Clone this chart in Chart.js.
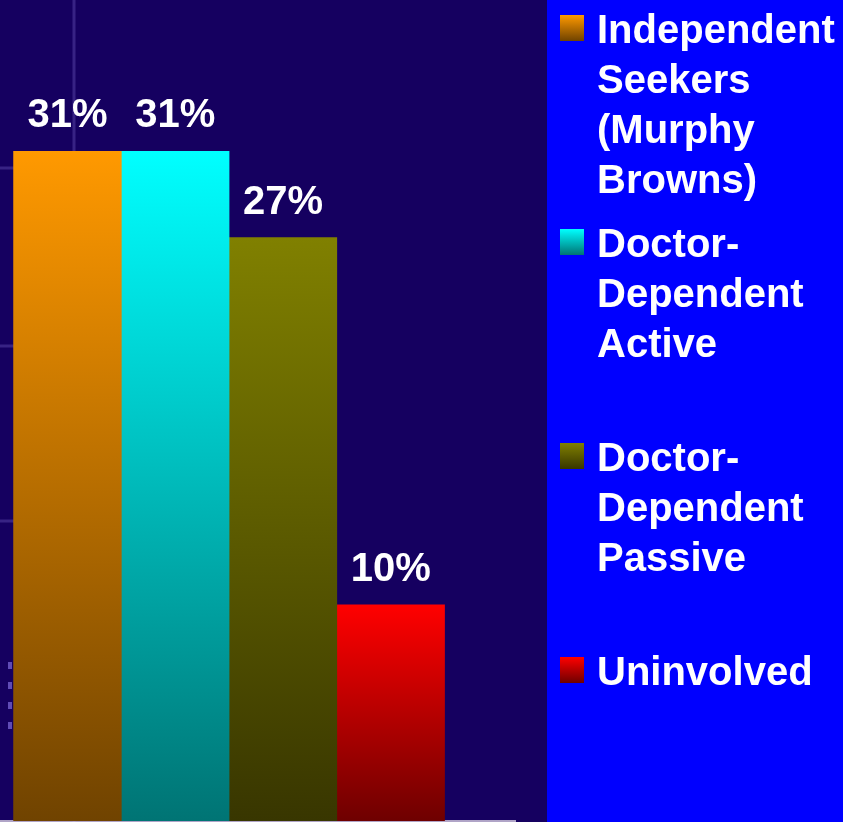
<!DOCTYPE html>
<html>
<head>
<meta charset="utf-8">
<title>Patient segments</title>
<script src="https://cdn.jsdelivr.net/npm/chart.js@4/dist/chart.umd.min.js"></script>
<style>
    html, body { margin: 0; padding: 0; background: #150060; }
    #wrap { position: relative; width: 843px; height: 822px; }
</style>
</head>
<body>
<div id="wrap"><canvas id="segmentChart" width="843" height="822"></canvas></div>
<script>
'use strict';

/* data */
const segmentNames = [
    ['Independent', 'Seekers', '(Murphy', 'Browns)'],
    ['Doctor-', 'Dependent', 'Active'],
    ['Doctor-', 'Dependent', 'Passive'],
    ['Uninvolved']
];
const segmentShares = [31, 31, 27, 10];
const segmentSlots = [1, 2, 3, 4];

/* colours: light at the top of each bar, dark at the base */
const topColors = ['#ff9900', '#00ffff', '#808000', '#ff0000'];
const baseColors = ['#704300', '#007474', '#383600', '#6e0000'];

const fontFamily = '"Liberation Sans", Arial, sans-serif';
const panelLeft = 547;

{
    /* vertical gradient for one bar, from its top down to the zero line */
    const barFill = function(context) {
        const i = context.datasetIndex;
        const chart = context.chart;
        if (context.type !== 'data' || !context.parsed || !chart.chartArea || !chart.scales.y) {
            return topColors[i];
        }
        const yScale = chart.scales.y;
        const top = yScale.getPixelForValue(context.parsed.y);
        const base = yScale.getPixelForValue(0);
        if (!isFinite(top) || !isFinite(base)) {
            return topColors[i];
        }
        const gradient = chart.ctx.createLinearGradient(0, top, 0, base);
        gradient.addColorStop(0, topColors[i]);
        gradient.addColorStop(1, baseColors[i]);
        return gradient;
    };

    /* slide background, faint guide lines and the blue legend panel */
    const backdrop = {
        id: 'backdrop',
        beforeDraw(chart) {
            const ctx = chart.ctx;
            ctx.save();
            ctx.fillStyle = '#150060';
            ctx.fillRect(0, 0, chart.width, chart.height);

            ctx.strokeStyle = 'rgba(120, 100, 200, 0.35)';
            ctx.lineWidth = 3;
            ctx.beginPath();
            ctx.moveTo(74, 0);
            ctx.lineTo(74, chart.height);
            for (const y of [168, 346, 521]) {
                ctx.moveTo(0, y);
                ctx.lineTo(14, y);
            }
            ctx.stroke();

            ctx.fillStyle = 'rgba(120, 100, 210, 0.75)';
            for (const y of [662, 682, 702, 722]) {
                ctx.fillRect(8, y, 4, 7);
            }

            ctx.fillStyle = '#0000ff';
            ctx.fillRect(panelLeft, 0, chart.width - panelLeft, chart.height);
            ctx.restore();
        }
    };

    /* percentage above every bar */
    const valueLabels = {
        id: 'valueLabels',
        afterDatasetsDraw(chart) {
            const ctx = chart.ctx;
            ctx.save();
            ctx.fillStyle = '#ffffff';
            ctx.font = 'bold 40px ' + fontFamily;
            ctx.textAlign = 'center';
            ctx.textBaseline = 'alphabetic';
            chart.data.datasets.forEach(function(dataset, i) {
                const meta = chart.getDatasetMeta(i);
                meta.data.forEach(function(bar, j) {
                    ctx.fillText(dataset.data[j].y + '%', bar.x, bar.y - 24);
                });
            });
            ctx.restore();
        }
    };

    /* legend on the blue panel, one entry per dataset */
    const sideLegend = {
        id: 'sideLegend',
        afterDraw(chart) {
            const ctx = chart.ctx;
            const step = 214;
            const lineHeight = 50;
            ctx.save();
            ctx.font = 'bold 40px ' + fontFamily;
            ctx.textAlign = 'left';
            ctx.textBaseline = 'alphabetic';
            chart.data.datasets.forEach(function(dataset, i) {
                const boxTop = 15 + i * step;
                const gradient = ctx.createLinearGradient(0, boxTop, 0, boxTop + 26);
                gradient.addColorStop(0, topColors[i]);
                gradient.addColorStop(1, baseColors[i]);
                ctx.fillStyle = gradient;
                ctx.fillRect(560, boxTop, 24, 26);

                ctx.fillStyle = '#ffffff';
                segmentNames[i].forEach(function(line, k) {
                    ctx.fillText(line, 597, 43 + i * step + k * lineHeight);
                });
            });
            ctx.restore();
        }
    };

    const ctx = document.getElementById('segmentChart').getContext('2d');

    const chart = new Chart(ctx, {
        type: 'bar',
        data: {
            datasets: segmentShares.map(function(share, i) {
                return {
                    label: segmentNames[i].join(' '),
                    data: [{ x: segmentSlots[i], y: share }],
                    backgroundColor: barFill,
                    borderWidth: 0,
                    grouped: false,
                    barPercentage: 1,
                    categoryPercentage: 1
                };
            })
        },
        options: {
            responsive: false,
            animation: false,
            layout: {
                padding: { left: 0, right: 328, top: 0, bottom: 1 }
            },
            plugins: {
                legend: { display: false },
                tooltip: { enabled: false }
            },
            scales: {
                x: {
                    type: 'linear',
                    min: 0.374,
                    max: 5.154,
                    afterBuildTicks: function(axis) { axis.ticks = []; },
                    grid: { display: false, drawTicks: false },
                    ticks: { display: false },
                    border: { display: true, color: 'rgba(215, 205, 225, 0.8)', width: 2 }
                },
                y: {
                    display: false,
                    min: 0,
                    max: 38
                }
            }
        },
        plugins: [backdrop, valueLabels, sideLegend]
    });
}
</script>
</body>
</html>
